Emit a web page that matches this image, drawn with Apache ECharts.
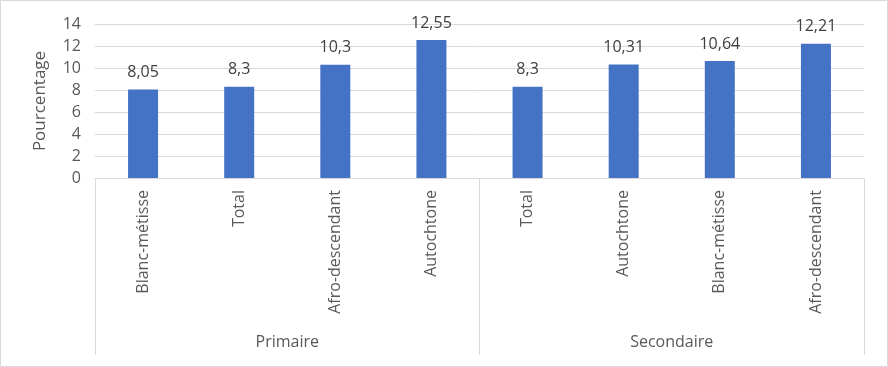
<!DOCTYPE html>
<html><head><meta charset="utf-8">
<script src="https://cdn.jsdelivr.net/npm/echarts@6/dist/echarts.min.js"></script>
<style>html,body{margin:0;padding:0;background:#fff}#c{width:888px;height:367px}</style>
</head><body><div id="c"></div>
<script>
const categories = ['Blanc-métisse','Total','Afro-descendant','Autochtone','Total','Autochtone','Blanc-métisse','Afro-descendant'];
const groups = ['Primaire','Secondaire'];
const values = [8.05, 8.3, 10.3, 12.55, 8.3, 10.31, 10.64, 12.21];
const yTicks = {min:0, max:14, interval:2};
const yTitle = 'Pourcentage';

const font = 'Open Sans';
const chart = echarts.init(document.getElementById('c'), null, {renderer:'canvas'});
chart.setOption({
  animation:false,
  backgroundColor:'#fff',
  graphic:[{type:'rect', shape:{x:0.5,y:0.5,width:887,height:366}, style:{fill:'none', stroke:'#d9d9d9', lineWidth:1}, silent:true}],
  grid:{left:95, right:24, top:24, bottom:189, containLabel:false},
  xAxis:[
    {type:'category', data:categories, position:'bottom',
     axisLine:{show:true, lineStyle:{color:'#d9d9d9', width:1}},
     axisTick:{show:false},
     axisLabel:{rotate:90, margin:12, color:'#595959', fontFamily:font, fontSize:16, interval:0}},
    {type:'category', data:groups, position:'bottom',
     axisLine:{show:false},
     axisTick:{show:true, length:177, lineStyle:{color:'#d9d9d9', width:1}},
     axisLabel:{margin:156, color:'#595959', fontFamily:font, fontSize:16}}
  ],
  yAxis:{type:'value', min:yTicks.min, max:yTicks.max, interval:yTicks.interval,
    name:yTitle, nameLocation:'middle', nameGap:46, nameRotate:90,
    nameTextStyle:{color:'#595959', fontFamily:font, fontSize:17},
    axisLine:{show:false}, axisTick:{show:false},
    axisLabel:{color:'#595959', fontFamily:font, fontSize:16, margin:14},
    splitLine:{lineStyle:{color:'#d9d9d9', width:1}}},
  series:[{type:'bar', data:values, barWidth:30, xAxisIndex:0,
    itemStyle:{color:'#4472C4'},
    label:{show:true, position:'top', distance:9, color:'#404040', fontFamily:font, fontSize:16,
      formatter:p=>String(p.value).replace('.',',')}}]
});
</script></body></html>
